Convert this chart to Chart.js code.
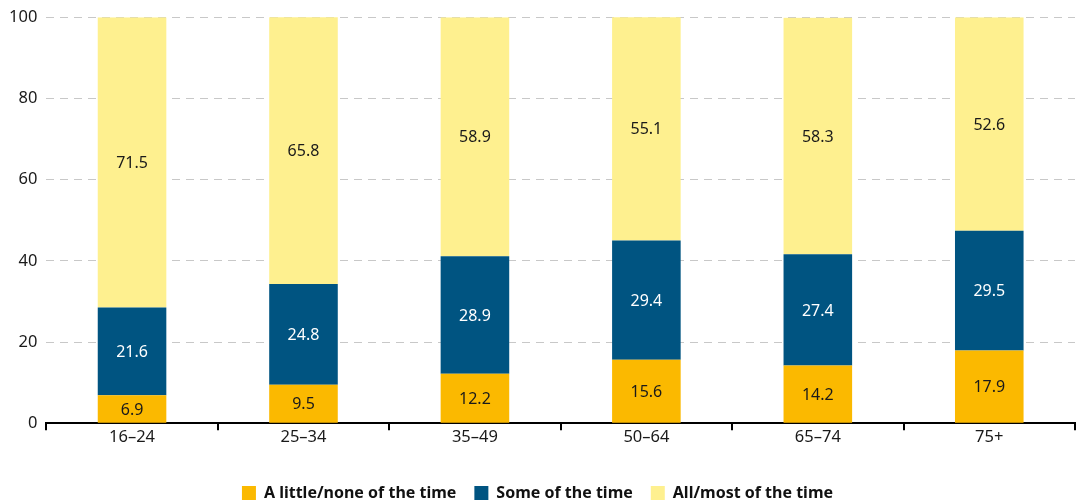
<!DOCTYPE html>
<html>
<head>
<meta charset="utf-8">
<script src="https://cdn.jsdelivr.net/npm/chart.js@4/dist/chart.umd.min.js"></script>
<style>
  html, body { margin: 0; padding: 0; background: #fff; }
  #wrap { width: 1078px; height: 501px; position: relative; }
</style>
</head>
<body>
<div id="wrap"><canvas id="chart"></canvas></div>
<script>
var ageGroups = ['16\u201324', '25\u201334', '35\u201349', '50\u201364', '65\u201374', '75+'];
var littleNone = [6.9, 9.5, 12.2, 15.6, 14.2, 17.9];
var someTime = [21.6, 24.8, 28.9, 29.4, 27.4, 29.5];
var allMost = [71.5, 65.8, 58.9, 55.1, 58.3, 52.6];
var yTicks = [0, 20, 40, 60, 80, 100];

var FONT = '"Noto Sans", "Open Sans", sans-serif';

// draws the value in the middle of each bar segment
var barValues = {
  id: 'barValues',
  afterDatasetsDraw: function(chart) {
    var ctx = chart.ctx;
    ctx.save();
    ctx.font = '16px ' + FONT;
    ctx.textAlign = 'center';
    ctx.textBaseline = 'middle';
    chart.data.datasets.forEach(function(ds, i) {
      var meta = chart.getDatasetMeta(i);
      meta.data.forEach(function(bar, j) {
        var mid = (bar.y + bar.base) / 2;
        ctx.fillStyle = ds.labelColor;
        ctx.fillText(ds.data[j].toFixed(1), bar.x, mid + 1);
      });
    });
    ctx.restore();
  }
};

var ctx = document.getElementById('chart').getContext('2d');
new Chart(ctx, {
  type: 'bar',
  data: {
    labels: ageGroups,
    datasets: [
      { label: 'A little/none of the time', data: littleNone, backgroundColor: '#fbb900', labelColor: '#1a1a1a' },
      { label: 'Some of the time', data: someTime, backgroundColor: '#005481', labelColor: '#ffffff' },
      { label: 'All/most of the time', data: allMost, backgroundColor: '#fef08f', labelColor: '#1a1a1a' }
    ]
  },
  options: {
    responsive: true,
    maintainAspectRatio: false,
    animation: false,
    layout: { padding: { top: 0, right: 3, left: 0, bottom: -10 } },
    datasets: { bar: { categoryPercentage: 0.4, barPercentage: 1.0 } },
    scales: {
      x: {
        stacked: true,
        grid: { display: true, drawOnChartArea: false, color: '#000', lineWidth: 2, tickLength: 7, offset: true },
        border: { display: true, color: '#000', width: 2 },
        ticks: { color: '#1a1a1a', font: { family: FONT, size: 16.5 }, padding: -3 },
        afterFit: function(scale) { scale.height += 23; }
      },
      y: {
        stacked: true,
        min: 0,
        max: 100,
        afterBuildTicks: function(scale) { scale.ticks = yTicks.map(function(v) { return { value: v }; }); },
        grid: { color: '#c8c8c8', lineWidth: 1, drawTicks: false },
        border: { display: false, dash: [8, 6] },
        ticks: { color: '#1a1a1a', font: { family: FONT, size: 16.5, lineHeight: 1 }, padding: 9 }
      }
    },
    plugins: {
      legend: {
        position: 'bottom',
        labels: {
          boxWidth: 14,
          boxHeight: 14,
          padding: 18,
          color: '#111',
          font: { family: FONT, size: 16, weight: 'bold' }
        }
      },
      tooltip: { enabled: false }
    }
  },
  plugins: [barValues]
});
</script>
</body>
</html>
